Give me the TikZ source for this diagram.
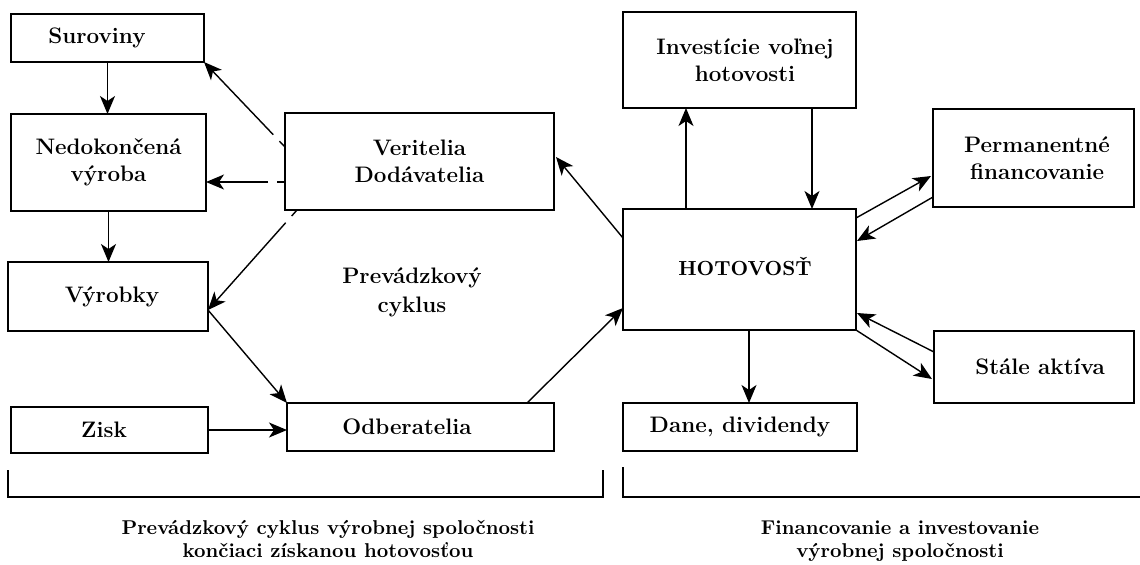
\documentclass[tikz,border=0pt]{standalone}
\usepackage{fontspec}
\usetikzlibrary{arrows.meta,calc}
\begin{document}
\begin{tikzpicture}[x=0.5pt,y=-0.5pt,
  box/.style={draw,line width=0.8pt,inner sep=0pt,outer sep=0pt,align=center,
    font=\fontsize{11.2}{13.5}\selectfont\bfseries},
  lbl/.style={inner sep=0pt,align=center},
  conn/.style={line width=0.7pt,-{Stealth[length=9pt,width=7.5pt,inset=2.5pt]}},
  dconn/.style={conn,dash pattern=on 4pt off 4.5pt on 300pt},
  brk/.style={line width=0.75pt}]
\useasboundingbox (0,0) rectangle (1140,564);
% left column
\node[box,minimum width=96.5pt,minimum height=24pt] (sur) at (107.5,38) {Suroviny\hspace*{10.5pt}};
\node[box,minimum width=97.5pt,minimum height=48.5pt] (ned) at (108.5,162.5) {Nedokončená\\výroba};
\node[box,minimum width=100pt,minimum height=34.5pt] (vyr) at (108,296.5) {\hspace*{4pt}Výrobky};
\node[box,minimum width=98.5pt,minimum height=23pt] (zisk) at (109.5,430) {Zisk\hspace*{5.5pt}};
% middle column
\node[box,minimum width=134.5pt,minimum height=48.5pt] (ver) at (419.5,161.5) {Veritelia\\Dodávatelia};
\node[lbl,font=\fontsize{11.2}{14.5}\selectfont\bfseries] (cyk) at (412,292) {Prevádzkový\\cyklus};
\node[box,minimum width=133.5pt,minimum height=24pt] (odb) at (420.5,427) {Odberatelia\hspace*{13.5pt}};
% right part
\node[box,minimum width=116.5pt,minimum height=48pt] (inv) at (739.5,60) {\hspace*{5.5pt}Investície voľnej\\\hspace*{5.5pt}hotovosti};
\node[box,minimum width=116.5pt,minimum height=60.5pt,text height=6.6pt,
  font=\fontsize{10.2}{12}\selectfont\bfseries] (hot) at (739.5,269.5) {\hspace*{5.5pt}HOTOVOSŤ};
\node[box,minimum width=117pt,minimum height=24pt] (dane) at (740,427) {Dane, dividendy};
\node[box,minimum width=100.5pt,minimum height=49pt] (perm) at (1033.5,158) {\hspace*{3.5pt}Permanentné\\\hspace*{3.5pt}financovanie};
\node[box,minimum width=100pt,minimum height=36pt] (sta) at (1034,367) {\hspace*{6pt}Stále aktíva};
% helper coordinates
\coordinate (vp) at ($(vyr.east)+(0,13.5)$);
% connectors left
\draw[conn] (sur.south) -- (sur.south |- ned.north);
\draw[conn] (ned.south) -- (ned.south |- vyr.north);
\draw[conn] (vp) -- (odb.north west);
\draw[conn] (zisk.east) -- (zisk.east -| odb.west);
\draw[conn] ($(odb.north east)+(-27,0)$) -- ($(hot.south west)+(0,-22)$);
\draw[conn] ($(hot.north west)+(0,29)$) -- ($(ver.east)+(2,-4.5)$);
\draw[dconn] ($(ver.west)+(0,-14.5)$) -- (sur.south east);
\draw[dconn] ($(ver.west)+(0,20.5)$) -- ($(ned.east)+(0,19.5)$);
\draw[dconn] ($(ver.south west)+(12,0)$) -- (vp);
% connectors right
\draw[conn] ($(hot.north west)+(63,0)$) -- ($(inv.south west)+(63,0)$);
\draw[conn] ($(inv.south west)+(189,0)$) -- ($(hot.north west)+(189,0)$);
\draw[conn] ($(hot.north east)+(0,9)$) -- ($(perm.west)+(-2,18)$);
\draw[conn] ($(perm.south west)+(0,-10)$) -- ($(hot.north east)+(1,32)$);
\draw[conn] ($(sta.west)+(0,-15)$) -- ($(hot.south east)+(1,-17)$);
\draw[conn] (hot.south east) -- ($(sta.west)+(-2,12)$);
\draw[conn] ($(hot.south)+(9.5,0)$) -- ($(dane.north)+(9,0)$);
% brackets
\draw[brk] (8,470) -- (8,497) -- (603,497) -- (603,470);
\draw[brk] (623,467) -- (623,497) -- (1140,497);
% bottom captions
\node[lbl,font=\fontsize{10}{11.5}\selectfont\bfseries] (capl) at (328,539) {Prevádzkový cyklus výrobnej spoločnosti\\končiaci získanou hotovosťou};
\node[lbl,font=\fontsize{10}{11.5}\selectfont\bfseries] (capr) at (900,541) {Financovanie a investovanie\\výrobnej spoločnosti};
\end{tikzpicture}
\end{document}
